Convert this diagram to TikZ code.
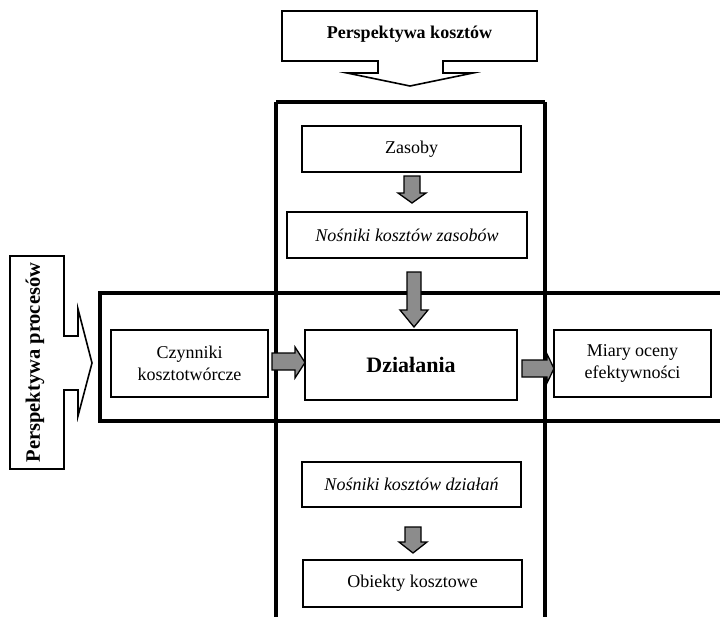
\documentclass[tikz,border=0pt]{standalone}
\usepackage{fontspec}
\setmainfont{Liberation Serif}
\definecolor{arrgray}{HTML}{8C8C8C}
\begin{document}
\begin{tikzpicture}[x=1pt,y=-1pt,
  box/.style={draw, line width=1.7pt, align=center, inner sep=0pt},
  frame/.style={draw, line width=3.2pt},
  callout/.style={draw, line width=1.6pt, fill=white},
  blockarrow/.style={draw, line width=1.3pt, fill=arrgray},
  txt/.style={font=\fontsize{18}{22}\selectfont}]
\useasboundingbox (0,0) rectangle (720,616);
% big frames
\draw[frame] (276,102) -- (545,102);
\draw[frame] (276,102) -- (276,622);
\draw[frame] (545,102) -- (545,622);
\draw[frame] (726,293) -- (100,293) -- (100,421) -- (726,421);
% callouts
\draw[callout] (282,11) -- (537,11) -- (537,61) -- (443,61) -- (443,73) -- (473,73) -- (410,86) -- (347,73) -- (378,73) -- (378,61) -- (282,61) -- cycle;
\node[font=\fontsize{18}{22}\selectfont\bfseries] (pk) at (409.5,34) {Perspektywa kosztów};
\draw[callout] (10,256) -- (64,256) -- (64,336) -- (78,336) -- (78,309) -- (92,363) -- (78,416) -- (78,390) -- (64,390) -- (64,469) -- (10,469) -- cycle;
\node[font=\fontsize{20.5}{24}\selectfont\bfseries, rotate=90] (pp) at (35,362.5) {Perspektywa procesów};
% boxes
\node[box, txt, minimum width=219, minimum height=46] (zas) at (411.5,149) {Zasoby};
\node[box, txt, minimum width=240, minimum height=46] (nzas) at (407,235) {\itshape Nośniki kosztów zasobów};
\node[box, minimum width=212, minimum height=70, font=\fontsize{22}{26}\selectfont\bfseries] (dz) at (411,365) {Działania};
\node[box, txt, minimum width=157, minimum height=67] (czyn) at (189.5,363.5) {Czynniki\\kosztotwórcze};
\node[box, txt, minimum width=157, minimum height=67] (miary) at (632.5,363.5) {Miary oceny\\efektywności};
\node[box, txt, minimum width=219, minimum height=45] (ndz) at (411.5,484.5) {\itshape Nośniki kosztów działań};
\node[box, txt, minimum width=219, minimum height=47] (obj) at (412.5,583.5) {Obiekty kosztowe};
% block arrows
\draw[blockarrow] (404,176) -- (420,176) -- (420,193) -- (426,193) -- (412,203) -- (398,193) -- (404,193) -- cycle;
\draw[blockarrow] (407,272) -- (421,272) -- (421,310) -- (428,310) -- (414,327) -- (400,310) -- (407,310) -- cycle;
\draw[blockarrow] (272,353) -- (295,353) -- (295,347) -- (305,362.5) -- (295,378) -- (295,370) -- (272,370) -- cycle;
\draw[blockarrow] (522,360) -- (547,360) -- (547,354) -- (554,368.5) -- (547,383) -- (547,377) -- (522,377) -- cycle;
\draw[blockarrow] (405,527) -- (421,527) -- (421,542) -- (427,542) -- (413,553) -- (399,542) -- (405,542) -- cycle;
\end{tikzpicture}
\end{document}
